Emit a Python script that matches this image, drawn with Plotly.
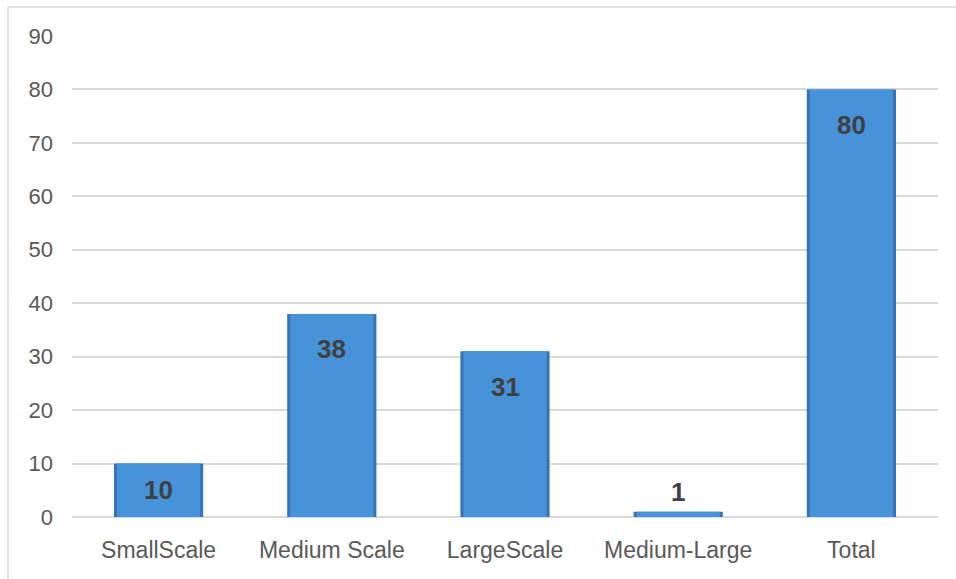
import plotly.graph_objects as go

categories = ["SmallScale", "Medium Scale", "LargeScale", "Medium-Large", "Total"]
values = [10, 38, 31, 1, 80]
y_ticks = [0, 10, 20, 30, 40, 50, 60, 70, 80, 90]

FONT = "Liberation Sans, Arial, sans-serif"

fig = go.Figure()
# outer bar (darker edge)
fig.add_trace(go.Bar(
    x=categories, y=values, width=0.515,
    marker=dict(color="#3574B6", line=dict(width=0)),
    hoverinfo="skip", showlegend=False,
))
# inner lighter body
fig.add_trace(go.Bar(
    x=categories, y=values, width=0.48,
    marker=dict(color="#4793DA", line=dict(width=0)),
    showlegend=False,
))
fig.update_layout(barmode="overlay")

# data labels
for c, v in zip(categories, values):
    if v >= 5:
        fig.add_annotation(x=c, y=max(v - 6.6, v / 2), text="<b>" + str(v) + "</b>", showarrow=False,
                           yanchor="middle", font=dict(family=FONT, size=26, color="#404040"))
    else:
        fig.add_annotation(x=c, y=v, text="<b>" + str(v) + "</b>", showarrow=False,
                           yanchor="bottom", yshift=3,
                           font=dict(family=FONT, size=26, color="#404040"))

fig.update_layout(
    width=956, height=579,
    margin=dict(l=72, r=18, t=36, b=62),
    plot_bgcolor="white", paper_bgcolor="white",
    font=dict(family=FONT, size=21, color="#595959"),
    xaxis=dict(showgrid=False, showline=False, ticks="", ticklabelstandoff=17,
               tickfont=dict(size=23, color="#595959")),
    yaxis=dict(range=[0, 90], tickvals=y_ticks, showgrid=True, gridcolor="#D9D9D9", gridwidth=1.5,
               zeroline=True, zerolinecolor="#D9D9D9", zerolinewidth=1.5,
               showline=False, ticks="", ticklabelstandoff=18,
               tickfont=dict(size=22, color="#595959")),
    shapes=[dict(type="rect", xref="paper", yref="paper", x0=-0.0739, x1=1.2, y0=-0.3, y1=1.0603,
                 line=dict(color="#D9D9D9", width=1.5), fillcolor="rgba(0,0,0,0)", layer="below")],
)

fig.write_html("out.html")
